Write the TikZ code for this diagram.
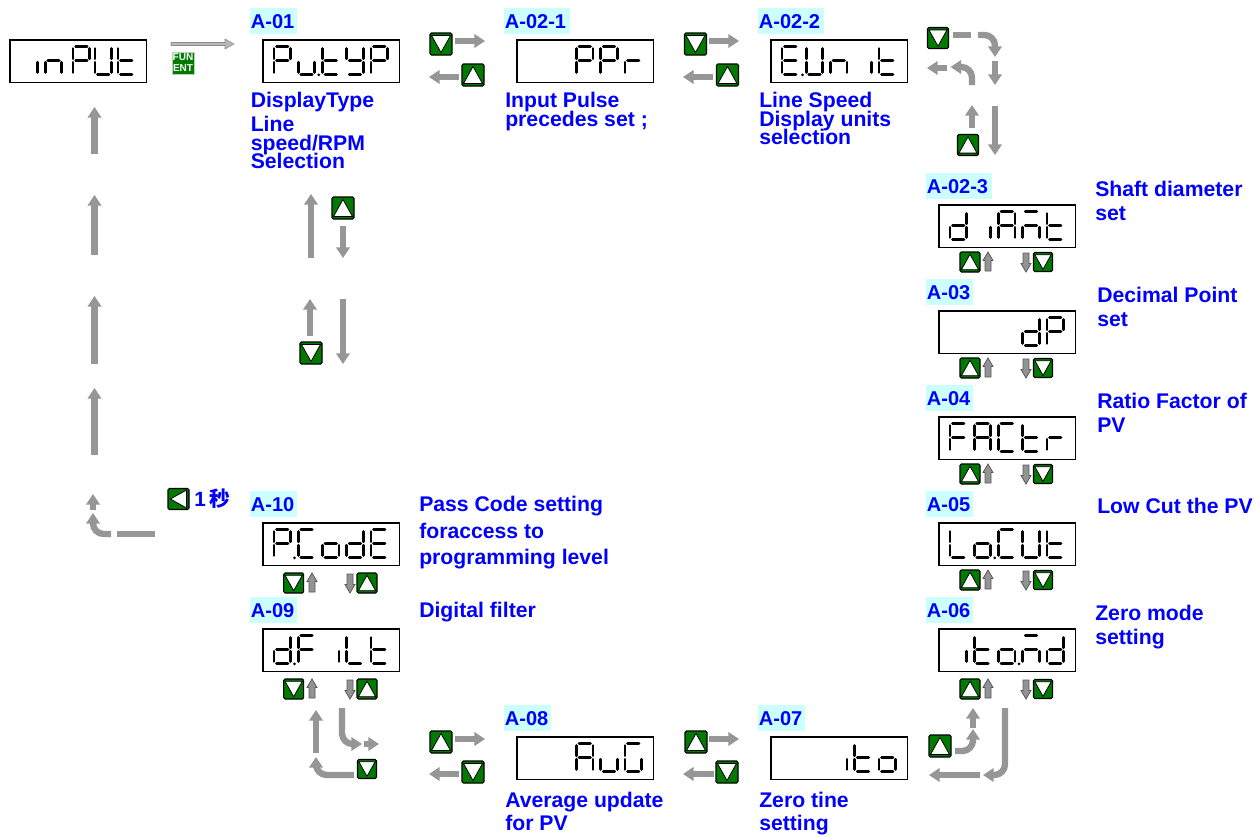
\documentclass[tikz,border=0pt]{standalone}
\usepackage{fontspec}
\setmainfont{Liberation Sans}
\newfontfamily\cjkfont{Noto Sans CJK SC}
\usetikzlibrary{arrows.meta}
% ---- seven segment elements (local units: px)
\def\sga{\draw[seg] (2.5,0) -- (14,0);}
\def\sgb{\draw[seg] (16.5,2) -- (16.5,12.3);}
\def\sgc{\draw[seg] (16.5,15.7) -- (16.5,26);}
\def\sgd{\draw[seg] (2.5,28) -- (14,28);}
\def\sge{\draw[seg] (0,15.7) -- (0,26);}
\def\sgf{\draw[seg] (0,2) -- (0,12.3);}
\def\sgg{\draw[seg] (2.5,14) -- (14,14);}
\def\gli{c}
\def\gln{c,e,g}
\def\glP{a,b,e,f,g}
\def\glU{b,c,d,e,f}
\def\glt{d,e,f,g}
\def\glu{c,d,e}
\def\glY{b,c,d,f,g}
\def\glr{e,g}
\def\glE{a,d,e,f,g}
\def\gld{b,c,d,e,g}
\def\glA{a,b,c,e,f,g}
\def\glm{a,c,e,g}
\def\glF{a,e,f,g}
\def\glC{a,d,e,f}
\def\glL{d,e,f}
\def\glo{c,d,e,g}
\def\glG{a,c,d,e,f}
% display: name, left x, top y, list letter/slot/dot
\newcommand{\dispbox}[4]{%
  \node[dispframe,anchor=north west] (#1) at (#2,#3) {};
  \foreach \g/\k/\o in {#4}{%
    \pgfmathsetmacro{\sx}{#2+12+24.25*\k}%
    \begin{scope}[shift={(\sx,#3+7.5)}]
      \edef\seglist{\csname gl\g\endcsname}%
      \foreach \s in \seglist {\csname sg\s\endcsname}%
      \ifnum\o=1 \fill (20.5,28.3) circle (1.5);\fi
    \end{scope}
  }%
}
% button: name, x, y, size, direction
\newcommand{\btn}[5]{%
  \node[btnbox,minimum size=#4*0.75pt] (#1) at (#2,#3) {};
  \begin{scope}[shift={(#2,#3)},scale=#4/22]
    \ifx U#5\draw[tri] (0,-8.5) -- (9.5,8.5) -- (-9.5,8.5) -- cycle;\fi
    \ifx D#5\draw[tri] (0,8.5) -- (9.5,-8.5) -- (-9.5,-8.5) -- cycle;\fi
    \ifx L#5\draw[tri] (-8.5,0) -- (8.5,-9.5) -- (8.5,9.5) -- cycle;\fi
  \end{scope}
}
% small outlined vertical arrows beside the buttons
\newcommand{\smup}[2]{\begin{scope}[shift={(#1,#2)}]
  \draw[smarr] (0,-10) -- (5,-1.5) -- (3,-1.5) -- (3,9) -- (-3,9) -- (-3,-1.5) -- (-5,-1.5) -- cycle;\end{scope}}
\newcommand{\smdn}[2]{\begin{scope}[shift={(#1,#2)}]
  \draw[smarr] (0,10) -- (5,1.5) -- (3,1.5) -- (3,-9) -- (-3,-9) -- (-3,1.5) -- (-5,1.5) -- cycle;\end{scope}}
% code tag with cyan background
\newcommand{\tagbox}[5]{%
  \fill[tagcol] (#2,#3) rectangle (#4,#3+26);
  \node[lab,anchor=base west] (#1) at (#2+0.7,#3+20.5) {#5};}
% description: name, x, first baseline, line spacing (px), text
\newcommand{\desc}[5]{%
  \node[lab,align=left,anchor=north west,
    font={\fontsize{15.9pt}{18pt}\selectfont\bfseries\baselineskip=\dimexpr#4pt*3/4\relax\lineskiplimit=-30pt}]
    (#1) at (#2,#3-15) {\rule{0pt}{11.25pt}#5};}
\definecolor{tagc}{HTML}{CCFFFF}
\definecolor{btng}{HTML}{007A00}
\definecolor{arrg}{HTML}{969696}
\tikzset{
  seg/.style={line width=2pt,line cap=round,black},
  dispframe/.style={draw=black,line width=1.2pt,fill=white,minimum width=102.5pt,minimum height=32pt,inner sep=0pt,rectangle},
  btnbox/.style={draw=black,line width=0.8pt,fill=btng,rounded corners=1pt,inner sep=0pt,rectangle},
  tri/.style={fill=white,draw=black,line width=0.6pt,line join=miter},
  smarr/.style={fill=gray!85,draw=black!65,line width=0.6pt},
  tagcol/.style={tagc},
  lab/.style={text=blue,inner sep=0pt,font=\fontsize{15pt}{18pt}\selectfont\bfseries},
  garr/.style={draw=arrg,line width=4.8pt,-{Triangle[length=8pt,width=10pt]}},
  gbar/.style={draw=arrg,line width=4.8pt},
  roundbend/.style={rounded corners=8pt},
}
\begin{document}
\begin{tikzpicture}[x=0.75pt,y=-0.75pt]
\useasboundingbox (0,0) rectangle (1254,835);
% ---- displays
\dispbox{dInput}{9}{39}{i/0/0,n/1/0,P/2.15/0,U/3.05/0,t/4/0}
\dispbox{dA01}{262}{39}{P/0/0,u/1/1,t/2/0,Y/3/0,P/4/0}
\dispbox{dA021}{516}{39}{P/2/0,P/3/0,r/4/0}
\dispbox{dA022}{770}{39}{E/0/1,U/1/0,n/2/0,i/3/0,t/4/0}
\dispbox{dA023}{938}{204}{d/0/0,i/1/0,A/2/0,m/3/0,t/4/0}
\dispbox{dA03}{938}{310}{d/3/0,P/4/0}
\dispbox{dA04}{938}{416}{F/0/0,A/1/0,C/2/0,t/3/0,r/4/0}
\dispbox{dA05}{938}{522}{L/0/0,o/1/1,C/2/0,U/3/0,t/4/0}
\dispbox{dA06}{938}{628}{i/0/0,t/1/0,o/2/1,m/3/0,d/4/0}
\dispbox{dA07}{770}{736}{i/2/0,t/3/0,o/4/0}
\dispbox{dA08}{516}{736}{A/2/0,u/3/0,G/4/0}
\dispbox{dA09}{262}{628}{d/0/1,F/1/0,i/2/0,L/3/0,t/4/0}
\dispbox{dA10}{262}{522}{P/0/1,C/1/0,o/2/0,d/3/0,E/4/0}
% ---- code tags
\tagbox{tA01}{250}{8}{297}{A-01}
\tagbox{tA021}{504}{8}{570}{A-02-1}
\tagbox{tA022}{758}{8}{824}{A-02-2}
\tagbox{tA023}{926}{173}{992}{A-02-3}
\tagbox{tA03}{926}{279}{973}{A-03}
\tagbox{tA04}{926}{385}{973}{A-04}
\tagbox{tA05}{926}{491}{973}{A-05}
\tagbox{tA06}{926}{597}{973}{A-06}
\tagbox{tA07}{758}{705}{805}{A-07}
\tagbox{tA08}{504}{705}{551}{A-08}
\tagbox{tA09}{250}{597}{297}{A-09}
\tagbox{tA10}{250}{491}{297}{A-10}
% ---- descriptions
\desc{xA01}{250.5}{107}{18.5}{DisplayType\\[4.2pt]Line\\speed/RPM\\Selection}
\desc{xA021}{505}{107}{18.7}{Input Pulse\\precedes set ;}
\desc{xA022}{759}{107}{18.5}{Line Speed\\Display units\\selection}
\desc{xA023}{1095}{196}{23.5}{Shaft diameter\\set}
\desc{xA03}{1097}{302}{24}{Decimal Point\\set}
\desc{xA04}{1097}{408}{24}{Ratio Factor of\\PV}
\desc{xA05}{1097}{513}{24}{Low Cut the PV}
\desc{xA06}{1095}{620}{24}{Zero mode\\setting}
\desc{xA07}{759}{807}{23}{Zero tine\\setting}
\desc{xA08}{505}{807}{23}{Average update\\for PV}
\desc{xA09}{419}{617}{24}{Digital filter}
\desc{xA10}{419}{511}{26.5}{Pass Code setting\\foraccess to\\programming level}
\node[lab,anchor=base west,font={\fontsize{15.5pt}{18pt}\selectfont\bfseries}] (onesec) at (194,506) {1\,{\cjkfont 秒}};
% ---- FUN/ENT key
\node[rectangle,fill=btng,draw=white!70!btng,line width=0.4pt,minimum size=16.5pt,inner sep=0pt] (funkey) at (183,63) {};
\node[text=white,inner sep=0pt,font={\fontsize{7.5pt}{8.2pt}\selectfont\bfseries},align=center] (funtxt) at (funkey) {FUN\\ENT};
\draw[draw=gray!90,fill=gray!55,line width=0.4pt] (171,42.5) -- (225,42.5) -- (225,39) -- (234,44) -- (225,49) -- (225,45.5) -- (171,45.5) -- cycle;
% ---- buttons and arrows: top row
\btn{b1}{441}{44}{22}{D}
\draw[garr] (455,41) -- (485,41);
\btn{b2}{473}{75}{22}{U}
\draw[garr] (459,77) -- (429,77);
\btn{b3}{695.5}{44}{22}{D}
\draw[garr] (709,41) -- (739,41);
\btn{b4}{727.5}{75}{22}{U}
\draw[garr] (713,77) -- (683,77);
% ---- top right corner
\btn{b5}{938}{38}{21}{D}
\draw[gbar] (953,35) -- (971,35);
\draw[garr,roundbend] (978,35) -- (995,35) -- (995,57);
\draw[garr] (995,61) -- (995,85);
\draw[garr,roundbend] (972,85) -- (972,67) -- (950.5,67);
\draw[garr] (947,68) -- (927,68);
\draw[garr] (972,128) -- (972,105);
\btn{b6}{968}{145}{21}{U}
\draw[garr] (995,106) -- (995,155);
% ---- key pairs beside displays on the right
\foreach \yy in {262,368,474,580,689}{
  \btn{u\yy}{970}{\yy}{20}{U}
  \smup{988}{\yy}
  \smdn{1026}{\yy}
  \btn{d\yy}{1043}{\yy}{19}{D}
}
% ---- key pairs on the left
\foreach \yy in {583,689}{
  \btn{l\yy}{293.7}{\yy}{20}{D}
  \smup{312}{\yy}
  \smdn{350}{\yy}
  \btn{r\yy}{367}{\yy}{20}{U}
}
% ---- below A-01
\draw[garr] (311,258) -- (311,194);
\btn{b7}{343}{208}{22}{U}
\draw[garr] (343,226) -- (343,258);
\draw[garr] (310,336) -- (310,299);
\btn{b8}{311}{353}{22}{D}
\draw[garr] (343,299) -- (343,364);
% ---- left column
\draw[garr] (94.5,154) -- (94.5,107);
\draw[garr] (94.5,255) -- (94.5,195);
\draw[garr] (94.5,364) -- (94.5,296);
\draw[garr] (94.5,455) -- (94.5,388);
\draw[garr] (93,510) -- (93,494);
\draw[garr,roundbend] (111,534) -- (93,534) -- (93,513);
\draw[gbar] (117,534) -- (155,534);
\btn{b9}{178.5}{499}{21}{L}
% ---- bottom left
\draw[garr] (316,753) -- (316,710);
\draw[garr,roundbend] (354,775) -- (316,775) -- (316,757);
\btn{b10}{367}{769}{19}{D}
\draw[garr,roundbend] (342,708) -- (342,744) -- (362,744);
\draw[garr] (364,744) -- (379,744);
\btn{b11}{441}{742}{22}{U}
\draw[garr] (455,739) -- (485,739);
\btn{b12}{473}{772}{22}{D}
\draw[garr] (459,774) -- (429,774);
\btn{b13}{696}{742}{22}{U}
\draw[garr] (709,739) -- (739,739);
\btn{b14}{727}{772}{22}{D}
\draw[garr] (714,774) -- (683,774);
% ---- bottom right
\btn{b15}{940}{746}{22}{U}
\draw[garr,roundbend] (955,751) -- (973,751) -- (973,729);
\draw[garr] (973,728) -- (973,708);
\draw[garr,roundbend] (1005,708) -- (1005,775) -- (983,775);
\draw[garr] (980,775) -- (929,775);
\end{tikzpicture}
\end{document}
